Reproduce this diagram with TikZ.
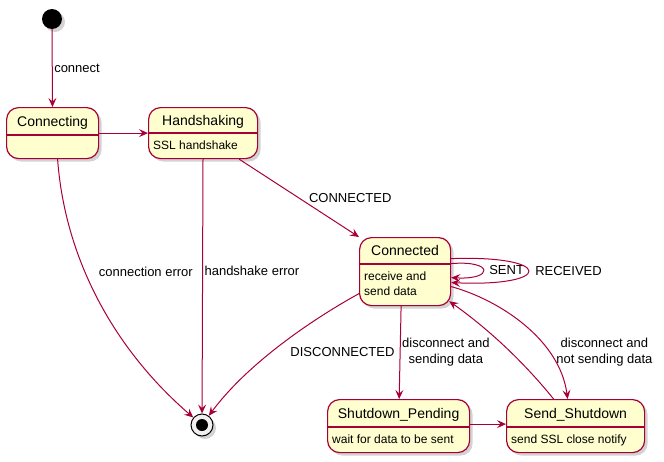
\documentclass[tikz,border=0pt]{standalone}
\usepackage{fontspec}
\setmainfont{Liberation Sans}
\usetikzlibrary{arrows.meta,shadows,positioning,calc}
\definecolor{umlred}{RGB}{168,0,54}
\definecolor{umlfill}{RGB}{254,254,206}

\begin{document}
\begin{tikzpicture}[x=1pt,y=-1pt]

    \tikzstyle{umlstate}=[draw=umlred, fill=umlfill, line width=1.2pt, rounded corners=12pt, anchor=north west, inner sep=0pt, drop shadow={shadow xshift=3pt, shadow yshift=-3pt, opacity=0.35}]
    \tikzstyle{statename}=[font=\fontsize{14}{16}\selectfont, text height=10pt, text depth=0pt, inner sep=0pt]
    \tikzstyle{statedesc}=[font=\fontsize{12}{15}\selectfont, align=left, anchor=north west, inner sep=0pt]
    \tikzstyle{headline}=[draw=umlred, line width=1.2pt]
    \tikzstyle{transition}=[draw=umlred, line width=1pt, -{Stealth[length=9pt,width=8pt,inset=3.5pt]}]
    \tikzstyle{translabel}=[font=\fontsize{13}{16}\selectfont, inner sep=1.5pt, align=center]
    \tikzstyle{startdot}=[circle, fill=black, minimum size=20pt, inner sep=0pt, drop shadow={shadow xshift=3pt, shadow yshift=-3pt, opacity=0.35}]
    \tikzstyle{stopdot}=[circle, draw=black, fill=black!6, line width=1pt, minimum size=22pt, inner sep=0pt, drop shadow={shadow xshift=3pt, shadow yshift=-3pt, opacity=0.35}]

    \useasboundingbox (0,0) rectangle (664,461);

    % pseudo states
    \node[startdot] (start) at (52,19) {};
    \node[stopdot] (stop) at (202,425) {};
    \node[circle, fill=black, minimum size=12pt, inner sep=0pt] (stopcore) at (stop) {};

    % states
    \node[umlstate, minimum width=92pt, minimum height=51pt] (Connecting) at (6,107) {};
    \node[statename] at ([yshift=-14pt]Connecting.north) {Connecting};
    \draw[headline] ([yshift=-28pt]Connecting.north west) -- ([yshift=-28pt]Connecting.north east);

    \node[umlstate, minimum width=109pt, minimum height=51pt] (Handshaking) at (148,107) {};
    \node[statename] at ([yshift=-13pt]Handshaking.north) {Handshaking};
    \draw[headline] ([yshift=-26pt]Handshaking.north west) -- ([yshift=-26pt]Handshaking.north east);
    \node[statedesc] at ([xshift=5pt,yshift=-34pt]Handshaking.north west) {SSL handshake};

    \node[umlstate, minimum width=91pt, minimum height=68pt] (Connected) at (359,237) {};
    \node[statename] at ([yshift=-13.5pt]Connected.north) {Connected};
    \draw[headline] ([yshift=-27pt]Connected.north west) -- ([yshift=-27pt]Connected.north east);
    \node[statedesc] at ([xshift=5pt,yshift=-35pt]Connected.north west) {receive and\\send data};

    \node[umlstate, minimum width=142pt, minimum height=53pt] (ShutdownPending) at (327,399) {};
    \node[statename] at ([yshift=-14pt]ShutdownPending.north) {Shutdown\_Pending};
    \draw[headline] ([yshift=-28pt]ShutdownPending.north west) -- ([yshift=-28pt]ShutdownPending.north east);
    \node[statedesc] at ([xshift=5pt,yshift=-36pt]ShutdownPending.north west) {wait for data to be sent};

    \node[umlstate, minimum width=138pt, minimum height=53pt] (SendShutdown) at (506,399) {};
    \node[statename] at ([yshift=-14pt]SendShutdown.north) {Send\_Shutdown};
    \draw[headline] ([yshift=-28pt]SendShutdown.north west) -- ([yshift=-28pt]SendShutdown.north east);
    \node[statedesc] at ([xshift=5pt,yshift=-36pt]SendShutdown.north west) {send SSL close notify};

    % transitions
    \draw[transition] (start) -- node[translabel, anchor=west] {connect} (Connecting);
    \draw[transition] (Connecting) -- (Handshaking);
    \draw[transition] ([xshift=-19pt]Handshaking.south east) -- node[translabel, right=8pt] {CONNECTED} (Connected.north west);
    \draw[transition] ([xshift=5pt]Connecting.south) .. controls (65,260) and (115,350) .. node[translabel, pos=.39, anchor=west, xshift=12pt] {connection error} (stop);
    \draw[transition] (Handshaking) -- node[translabel, pos=.44, anchor=west] {handshake error} (stop);
    \draw[transition] ([yshift=-22pt]Connected.west) .. controls (320,315) and (250,360) .. node[translabel, pos=.55, anchor=west, xshift=12pt, yshift=-4pt] {DISCONNECTED} (stop);
    \draw[transition] ([yshift=8pt]Connected.east) .. controls (494,260) and (494,280) .. node[translabel, anchor=west, xshift=4pt] {SENT} ([yshift=-6pt]Connected.east);
    \draw[transition] ([yshift=13pt]Connected.east) .. controls (554,255) and (554,287) .. node[translabel, anchor=west, xshift=5pt] {RECEIVED} ([yshift=-11pt]Connected.east);
    \draw[transition] ([xshift=-4pt]Connected.south) -- node[translabel, anchor=west] {disconnect and\\sending data} (ShutdownPending);
    \draw[transition] ([yshift=2pt]ShutdownPending.east) -- ([yshift=2pt]SendShutdown.west);
    \draw[transition] ([yshift=-15pt]Connected.east) .. controls (500,300) and (560,340) .. node[translabel, pos=.68, anchor=west, xshift=8pt, yshift=-4pt] {disconnect and\\not sending data} ([xshift=-8pt]SendShutdown.north);
    \draw[transition] ([xshift=-22pt]SendShutdown.north) .. controls (522,360) and (487,328) .. ([xshift=-2pt,yshift=5pt]Connected.south east);
\end{tikzpicture}
\end{document}
